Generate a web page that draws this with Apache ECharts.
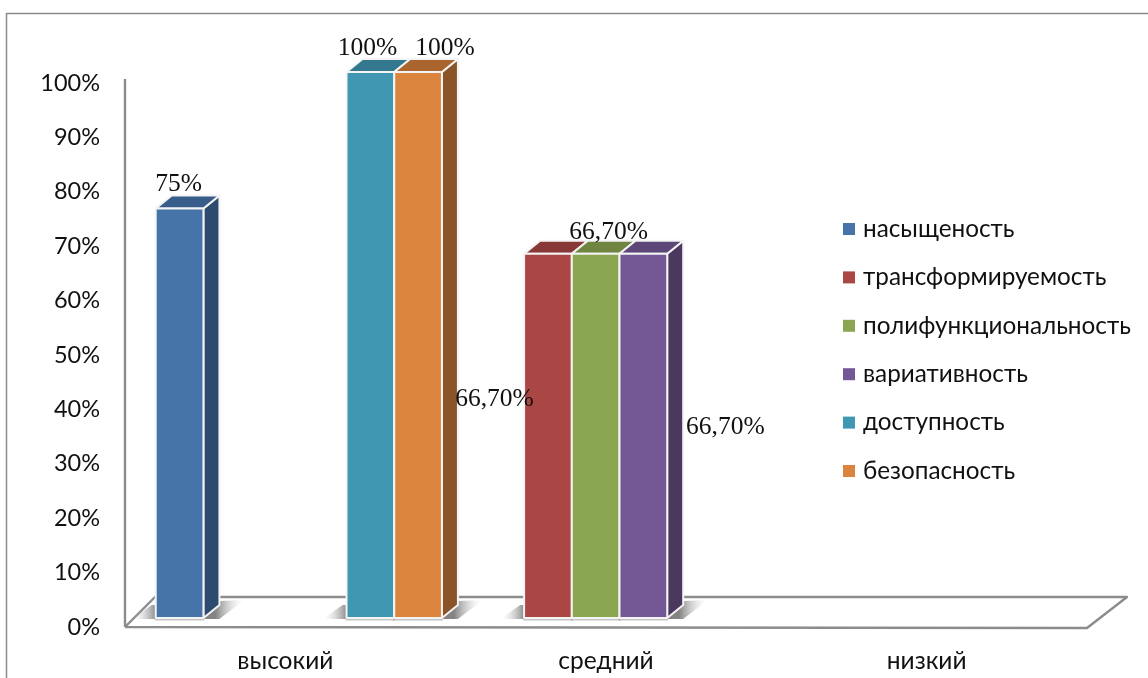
<!DOCTYPE html>
<html><head><meta charset="utf-8">
<style>html,body{margin:0;padding:0;background:#fff}#c{width:1148px;height:678px}</style>
<script src="https://cdn.jsdelivr.net/npm/echarts@6/dist/echarts.min.js"></script>
</head><body><div id="c"></div>
<script>
const categories = ['высокий', 'средний', 'низкий'];
const seriesNames = ['насыщеность', 'трансформируемость', 'полифункциональность', 'вариативность', 'доступность', 'безопасность'];
const saturation = [75, null, null];
const transform = [null, 66.7, null];
const polyfunc = [null, 66.7, null];
const variability = [null, 66.7, null];
const access = [100, null, null];
const safety = [100, null, null];
const allValues = [saturation, transform, polyfunc, variability, access, safety];
const labelTexts = ['75%', '66,70%', '66,70%', '66,70%', '100%', '100%'];

const front = ['#4674a8', '#aa4644', '#8ba650', '#745896', '#4097b1', '#db843d'];
const topc = ['#385d8a', '#883836', '#6f8540', '#5d4678', '#33788e', '#a9652d'];
const sidec = ['#2d4a6f', '#6e2d2b', '#586a33', '#4a385f', '#296171', '#8a5428'];
// label placement relative to bar's top centre (px)
const labelOff = [[-1, -24], [-53.5, 145], [13, -22], [82, 173], [-3, -24], [27, -24]];

const BAR_W = 47.7, DX = 16, DY = -13, LIFT = 9, SCALE = 546 / 544, CLUSTER_SHIFT = 13.5;

function barGeom(api, cat, val, si) {
  const base = api.coord([cat, 0]);
  const h = (base[1] - api.coord([cat, val])[1]) * SCALE;
  const x0 = base[0] + CLUSTER_SHIFT + (si - 3) * BAR_W;
  const y0 = base[1] - LIFT;
  return { x0, x1: x0 + BAR_W, y0, y1: y0 - h };
}

function barRender(si) {
  return function (params, api) {
    const cat = api.value(0), val = api.value(1);
    const g = barGeom(api, cat, val, si);
    const st = { stroke: '#f4f4f4', lineWidth: 2, lineJoin: 'round' };
    const poly = (pts, fill) => ({ type: 'polygon', shape: { points: pts }, style: Object.assign({ fill }, st) });
    const off = labelOff[si];
    return {
      type: 'group',
      children: [
        poly([[g.x1, g.y0], [g.x1 + DX, g.y0 + DY], [g.x1 + DX, g.y1 + DY], [g.x1, g.y1]], sidec[si]),
        poly([[g.x0, g.y1], [g.x1, g.y1], [g.x1 + DX, g.y1 + DY], [g.x0 + DX, g.y1 + DY]], topc[si]),
        poly([[g.x0, g.y0], [g.x1, g.y0], [g.x1, g.y1], [g.x0, g.y1]], front[si]),
        { type: 'text', z2: 100, style: {
            x: (g.x0 + g.x1) / 2 + off[0], y: g.y1 + off[1], text: labelTexts[si],
            fill: '#111', font: '25.5px "Liberation Serif"', align: 'center', verticalAlign: 'middle' } }
      ]
    };
  };
}

function shadowRender(params, api) {
  const si = api.value(2);
  const g = barGeom(api, api.value(0), api.value(1), si);
  const kids = [];
  const grad = (x, x2, y, y2, a) => ({ type: 'linear', global: true, x, y, x2, y2,
    colorStops: [{ offset: 0, color: 'rgba(110,110,110,' + a + ')' }, { offset: 1, color: 'rgba(220,220,220,0)' }] });
  const hasRight = si === 0 || si === 3 || si === 5;
  const hasLeft = si === 0 || si === 1 || si === 4;
  kids.push({ type: 'rect', shape: { x: g.x0 - 1, y: g.y0, width: BAR_W + 2, height: 2.5 }, style: { fill: 'rgba(150,150,150,0.55)' } });
  if (hasRight) kids.push({ type: 'polygon',
    shape: { points: [[g.x1, g.y0 + 1], [g.x1 + DX, g.y0 - 17], [g.x1 + DX + 25, g.y0 - 18], [g.x1 + 16, g.y0 + 1]] },
    style: { fill: grad(g.x1 + 12, g.x1 + 40, g.y0, g.y0, 0.85) } });
  if (hasLeft) kids.push({ type: 'polygon',
    shape: { points: [[g.x0, g.y0 + 1], [g.x0 - 24, g.y0 + 1], [g.x0 - 4, g.y0 - 13], [g.x0, g.y0 - 13]] },
    style: { fill: grad(g.x0, g.x0 - 23, g.y0, g.y0, 0.8) } });
  return { type: 'group', children: kids };
}

function floorRender(params, api) {
  const o = api.coord([0, 0]);
  const w = api.size([1, 0])[0] * categories.length;
  const xL = o[0] - api.size([1, 0])[0] / 2;
  const y = o[1], top = api.coord([0, 100])[1];
  const st = { fill: 'none', stroke: '#8c8c8c', lineWidth: 2.4, lineJoin: 'round' };
  return { type: 'group', children: [
    { type: 'polyline', shape: { points: [[xL, y], [xL + w, y + 1], [xL + w + 40, y - 30], [xL + 30, y - 30], [xL, y]] }, style: st },
    { type: 'line', shape: { x1: xL, y1: top - 4, x2: xL, y2: y }, style: { stroke: '#8c8c8c', lineWidth: 2.4 } }
  ] };
}

const shadowData = [];
allValues.forEach((vals, si) => vals.forEach((v, i) => { if (v !== null) shadowData.push([i, v, si]); }));

const series = [
  { type: 'custom', name: 'floor', z: 1, silent: true, clip: false, renderItem: floorRender, data: [[0, 0]], encode: { x: 0, y: 1 } },
  { type: 'custom', name: 'shadow', z: 2, silent: true, clip: false, renderItem: shadowRender, data: shadowData, encode: { x: 0, y: 1 } }
].concat(seriesNames.map((name, si) => ({
  type: 'custom', name, z: 3, clip: false, itemStyle: { color: front[si] },
  renderItem: barRender(si),
  encode: { x: 0, y: 1 },
  data: allValues[si].map((v, i) => [i, v]).filter(d => d[1] !== null)
})));

const chart = echarts.init(document.getElementById('c'), null, { renderer: 'canvas' });
chart.setOption({
  animation: false,
  backgroundColor: '#fff',
  textStyle: { fontFamily: 'Lato' },
  grid: { left: 125, right: 61, top: 83, bottom: 51, containLabel: false },
  xAxis: {
    type: 'category', data: categories,
    axisLine: { show: false }, axisTick: { show: false }, splitLine: { show: false },
    axisLabel: { color: '#111', fontSize: 24.5, fontFamily: 'Lato', margin: 22 }
  },
  yAxis: {
    type: 'value', min: 0, max: 100, interval: 10,
    axisLine: { show: false }, axisTick: { show: false }, splitLine: { show: false },
    axisLabel: { color: '#111', fontSize: 23.5, fontFamily: 'Lato', margin: 25, padding: [3, 0, 0, 0], formatter: '{value}%' }
  },
  legend: {
    data: seriesNames.map(name => ({ name, icon: 'rect' })),
    orient: 'vertical', left: 843, top: 217, padding: 0,
    itemWidth: 12, itemHeight: 12, itemGap: 24.4,
    selectedMode: false,
    textStyle: { color: '#111', fontSize: 24.3, fontFamily: 'Lato', lineHeight: 24, padding: [0, 0, 0, 3] }
  },
  graphic: [
    { type: 'polyline', silent: true, z: 0,
      shape: { points: [[6.5, 678], [6.5, 13.5], [1148, 13.5]] },
      style: { fill: 'none', stroke: '#8a8a8a', lineWidth: 1.5 } }
  ],
  series
});
</script></body></html>
